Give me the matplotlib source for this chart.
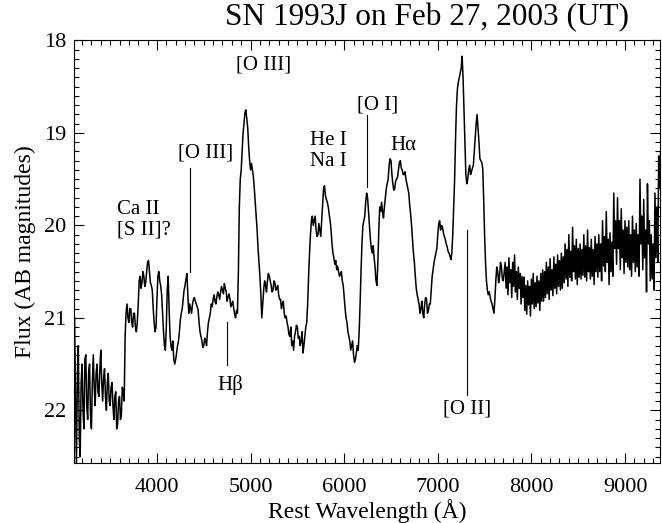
import numpy as np
import matplotlib
matplotlib.use("Agg")
import matplotlib.pyplot as plt
from matplotlib.ticker import MultipleLocator

plt.rcParams['font.family'] = ['Liberation Serif', 'DejaVu Serif']

# Spectrum sampled every 10 A starting at 3120 A (AB magnitudes)
wave_start = 3120
wave_step = 10
mag = [
    # 3120-3310
    21.0, 21.9, 22.6, 21.6, 21.3, 22.3, 22.5, 21.7, 21.5, 22.0,
    22.2, 21.45, 21.4, 21.95, 22.1, 21.6, 21.5, 22.05, 22.2, 21.7,
    # 3320-3510
    21.4, 21.75, 21.95, 21.6, 21.5, 21.8, 21.85, 21.55, 21.35, 21.7,
    21.9, 21.65, 21.55, 21.85, 22.0, 21.7, 21.6, 21.9, 21.95, 21.75,
    # 3520-3710
    21.7, 21.95, 22.1, 21.85, 21.8, 22.2, 22.15, 21.9, 21.85, 22.1,
    22.05, 21.75, 21.8, 21.9, 21.2, 20.95, 20.85, 21.0, 21.05, 20.9,
    # 3720-3910
    20.9, 21.05, 21.1, 20.95, 20.95, 21.1, 21.15, 21.05, 20.85, 20.6,
    20.55, 20.68, 20.62, 20.5, 20.55, 20.66, 20.62, 20.5, 20.4, 20.38,
    # 3920-4110
    20.5, 20.62, 20.65, 20.7, 20.9, 21.05, 21.15, 21.1, 20.8, 20.55,
    20.5, 20.6, 20.65, 20.75, 20.95, 21.15, 21.3, 21.35, 21.1, 20.7,
    # 4120-4310
    20.55, 20.9, 21.2, 21.3, 21.35, 21.25, 21.45, 21.5, 21.45, 21.38,
    21.3, 21.25, 21.15, 21.02, 20.95, 20.9, 20.8, 20.7, 20.65, 20.58,
    # 4320-4510
    20.52, 20.75, 20.95, 20.85, 20.9, 20.95, 20.85, 20.8, 20.78, 20.82,
    20.85, 20.88, 20.92, 21.05, 21.15, 21.2, 21.25, 21.32, 21.3, 21.22,
    # 4520-4710
    21.25, 21.3, 21.15, 21.05, 21.0, 20.95, 20.85, 20.88, 20.8, 20.75,
    20.82, 20.85, 20.77, 20.72, 20.75, 20.8, 20.72, 20.66, 20.7, 20.74,
    # 4720-4910
    20.63, 20.68, 20.72, 20.82, 20.77, 20.74, 20.8, 20.88, 20.85, 20.82,
    20.9, 20.96, 21.0, 20.92, 20.95, 20.5, 19.8, 19.5, 19.4, 19.2,
    # 4920-5110
    19.0, 18.9, 18.78, 18.75, 18.85, 18.95, 19.15, 19.3, 19.4, 19.33,
    19.4, 19.47, 19.6, 19.75, 19.9, 20.05, 20.25, 20.4, 20.55, 20.75,
    # 5120-5310
    21.0, 20.85, 20.7, 20.6, 20.65, 20.72, 20.6, 20.52, 20.55, 20.6,
    20.65, 20.72, 20.7, 20.6, 20.62, 20.7, 20.68, 20.65, 20.75, 20.8,
    # 5320-5510
    20.8, 20.9, 20.85, 20.82, 20.95, 21.0, 20.98, 21.05, 21.1, 21.18,
    21.2, 21.1, 21.3, 21.25, 21.35, 21.2, 21.15, 21.08, 21.1, 21.22,
    # 5520-5710
    21.2, 21.3, 21.25, 21.15, 21.38, 21.3, 21.2, 21.1, 21.05, 20.85,
    20.55, 20.3, 20.1, 19.95, 19.9, 20.0, 19.95, 19.9, 20.05, 20.12,
    # 5720-5910
    20.1, 19.98, 20.05, 20.12, 19.95, 19.8, 19.6, 19.57, 19.68, 19.72,
    19.75, 19.8, 19.88, 19.95, 20.05, 20.2, 20.3, 20.35, 20.42, 20.38,
    # 5920-6110
    20.48, 20.44, 20.5, 20.55, 20.52, 20.5, 20.6, 20.65, 20.78, 20.9,
    21.0, 21.05, 21.15, 21.2, 21.25, 21.35, 21.3, 21.25, 21.4, 21.48,
    # 6120-6310
    21.45, 21.38, 21.3, 21.35, 21.15, 20.85, 20.5, 20.2, 20.0, 19.95,
    19.9, 19.75, 19.65, 19.7, 19.85, 20.0, 20.15, 20.25, 20.3, 20.22,
    # 6320-6510
    20.35, 20.45, 20.6, 20.65, 20.4, 20.05, 19.8, 19.85, 19.75, 19.85,
    19.92, 19.8, 19.7, 19.6, 19.55, 19.5, 19.35, 19.28, 19.3, 19.45,
    # 6520-6710
    19.55, 19.62, 19.6, 19.52, 19.5, 19.48, 19.4, 19.32, 19.3, 19.38,
    19.4, 19.45, 19.45, 19.42, 19.5, 19.55, 19.6, 19.65, 19.78, 19.88,
    # 6720-6910
    20.0, 20.15, 20.3, 20.4, 20.55, 20.68, 20.75, 20.8, 20.85, 20.95,
    20.9, 20.82, 20.95, 21.0, 20.85, 20.78, 20.8, 20.95, 20.92, 20.85,
    # 6920-7110
    20.85, 20.7, 20.55, 20.48, 20.4, 20.35, 20.3, 20.25, 20.1, 19.98,
    19.95, 20.05, 20.0, 20.02, 20.08, 20.12, 20.15, 20.2, 20.23, 20.28,
    # 7120-7310
    20.3, 20.33, 20.37, 20.3, 20.1, 19.8, 19.5, 19.05, 18.7, 18.52,
    18.45, 18.4, 18.35, 18.3, 18.17, 18.4, 18.75, 19.1, 19.45, 19.55,
    # 7320-7510
    19.5, 19.4, 19.35, 19.45, 19.42, 19.38, 19.35, 19.2, 19.05, 18.9,
    18.8, 18.95, 19.1, 19.28, 19.3, 19.32, 19.38, 19.7, 20.1, 20.4,
    # 7520-7710
    20.6, 20.7, 20.75, 20.72, 20.78, 20.82, 20.85, 20.9, 20.95, 20.8,
    20.6, 20.45, 20.5, 20.62, 20.55, 20.4, 20.45, 20.58, 20.6, 20.5,
    # 7720-7910
    20.4, 20.68, 20.45, 20.75, 20.35, 20.62, 20.48, 20.78, 20.4, 20.66,
    20.32, 20.72, 20.5, 20.8, 20.45, 20.68, 20.52, 20.85, 20.55, 20.78,
    # 7920-8110
    20.56, 20.92, 20.65, 20.96, 20.6, 20.86, 20.66, 20.98, 20.58, 20.85,
    20.52, 20.9, 20.62, 20.88, 20.55, 20.84, 20.6, 20.92, 20.52, 20.82,
    # 8120-8310
    20.48, 20.82, 20.5, 20.78, 20.4, 20.74, 20.45, 20.8, 20.36, 20.7,
    20.48, 20.76, 20.34, 20.68, 20.42, 20.74, 20.32, 20.66, 20.38, 20.7,
    # 8320-8510
    20.3, 20.68, 20.34, 20.62, 20.2, 20.58, 20.26, 20.66, 20.1, 20.56,
    20.28, 20.6, 20.02, 20.5, 20.22, 20.58, 20.15, 20.64, 20.25, 20.56,
    # 8520-8710
    20.2, 20.58, 20.26, 20.54, 20.1, 20.56, 20.22, 20.6, 20.05, 20.5,
    20.24, 20.58, 20.15, 20.55, 20.26, 20.64, 20.12, 20.5, 20.2, 20.56,
    # 8720-8910
    20.1, 20.5, 20.2, 20.6, 19.95, 20.44, 20.12, 20.5, 19.85, 20.4,
    20.15, 20.64, 20.08, 20.5, 20.18, 20.55, 19.65, 20.25, 19.95, 20.42,
    # 8920-9110
    19.7, 20.25, 19.95, 20.48, 19.82, 20.35, 20.05, 20.52, 19.95, 20.4,
    20.02, 20.45, 19.95, 20.48, 20.1, 20.55, 19.9, 20.4, 20.05, 20.5,
    # 9120-9310
    19.98, 20.45, 20.1, 20.55, 19.5, 20.2, 19.9, 20.48, 19.72, 20.35,
    20.05, 20.72, 19.55, 20.2, 19.95, 20.6, 20.1, 20.58, 20.2, 20.7,
    # 9320-9380
    19.65, 20.35, 19.8, 20.4, 19.25, 19.6, 19.2,
]
wave = wave_start + wave_step * np.arange(len(mag))

# Line identifications: label, text x, text y, marker x, marker y0, marker y1
line_ids = [
    ("Ca II\n[S II]?", 3573, 19.94, None, None, None),
    ("[O III]", 4524, 19.22, 4353, 19.38, 20.50),
    ("[O III]", 5144, 18.27, None, None, None),
    ("H\u03b2", 4780, 21.73, 4748, 21.05, 21.51),
    ("He I\nNa I", 5832, 19.20, None, None, None),
    ("[O I]", 6362, 18.70, 6244, 18.81, 19.59),
    ("H\u03b1", 6628, 19.14, None, None, None),
    ("[O II]", 7312, 21.99, 7312, 20.05, 21.83),
]

fig = plt.figure(figsize=(6.62, 5.23), dpi=100)
ax = fig.add_axes([0.1125, 0.1147, 0.8845, 0.8079])

ax.plot(wave, mag, color='black', lw=1.1)

for label, tx, ty, lx, ly0, ly1 in line_ids:
    align = 'left' if label.startswith("Ca") else 'center'
    ax.text(tx, ty, label, fontsize=15, ha=align, va='center',
            multialignment='left' if align == 'left' else 'center',
            linespacing=1.15)
    if lx is not None:
        ax.plot([lx, lx], [ly0, ly1], color='black', lw=0.8)

ax.set_xlim(3119, 9374)
ax.set_ylim(22.57, 18.0)

ax.xaxis.set_major_locator(MultipleLocator(1000))
ax.xaxis.set_minor_locator(MultipleLocator(100))
ax.yaxis.set_major_locator(MultipleLocator(1))
ax.yaxis.set_minor_locator(MultipleLocator(0.1))
ax.tick_params(which='both', direction='in', top=True, right=True,
               labelsize=16, width=0.8)
ax.tick_params(which='major', length=7)
ax.tick_params(which='minor', length=3.5)
ax.tick_params(axis='x', which='major', pad=11)
ax.tick_params(axis='y', which='major', pad=6)
for s in ax.spines.values():
    s.set_linewidth(0.8)

ax.set_xlabel("Rest Wavelength (\u00c5)", fontsize=17, labelpad=1)
ax.set_ylabel("Flux (AB magnitudes)", fontsize=17, labelpad=6)
fig.text(0.645, 0.967, "SN 1993J on Feb 27, 2003 (UT)", fontsize=22.5,
         ha='center', va='center')

fig.savefig("out.png", dpi=100)
